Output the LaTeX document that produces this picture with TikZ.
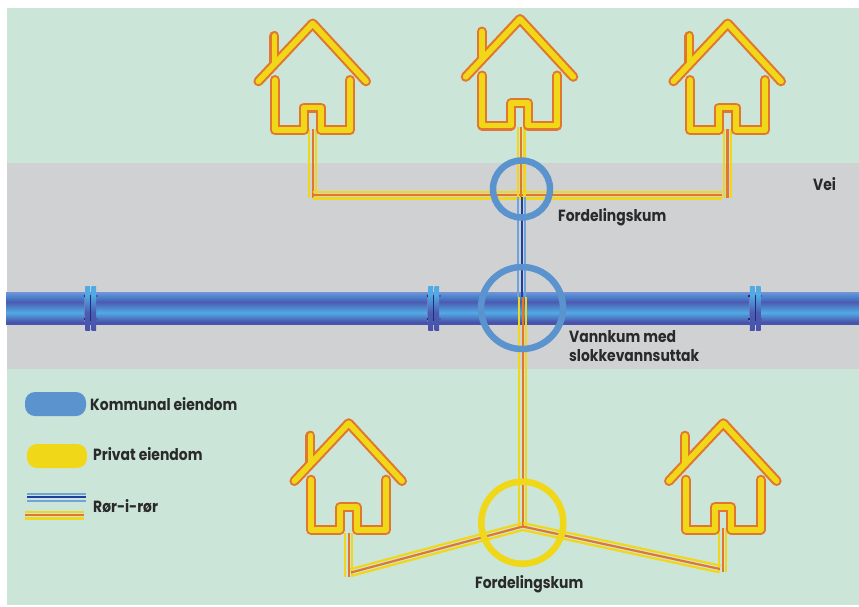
\documentclass[tikz,border=0pt]{standalone}
\usepackage{fontspec}
\setmainfont{Poppins}[FakeStretch=0.86]
\usetikzlibrary{calc}
\definecolor{bgreen}{HTML}{CBE6D8}
\definecolor{road}{HTML}{D0D1D3}
\definecolor{ringblue}{HTML}{5B93CF}
\definecolor{ringyellow}{HTML}{F0D718}
\definecolor{porange}{HTML}{E2762E}
\definecolor{pdark}{HTML}{1F3F9F}
\definecolor{plight}{HTML}{6FA3DC}
\definecolor{ink}{HTML}{2A2A2A}
\definecolor{pipeA}{HTML}{4A52AA}
\definecolor{pipeB}{HTML}{4A5CB2}
\definecolor{pipeC}{HTML}{52AAE4}
\definecolor{pipeD}{HTML}{7590D4}
\definecolor{pipeE}{HTML}{4F8ED4}
\definecolor{navy}{HTML}{1E2C7A}
\pgfdeclareverticalshading{mainpipe}{100bp}{
 color(0bp)=(pipeA); color(28bp)=(pipeA); color(43bp)=(pipeC); color(60bp)=(pipeB); color(71bp)=(pipeE); color(75bp)=(pipeD); color(100bp)=(pipeD)}
\pgfdeclareverticalshading{flangepipe}{100bp}{
 color(0bp)=(pipeA); color(25bp)=(pipeA); color(45bp)=(pipeB); color(65bp)=(pipeC); color(75bp)=(pipeC); color(100bp)=(pipeC)}
\tikzset{
 x=1pt,y=-1pt,
 label text/.style={font=\bfseries\fontsize{16.2}{19.5}\selectfont,text=ink,anchor=west,inner sep=0pt,align=left},
 ring/.style={line width=6.5pt,fill=none},
 house outer/.style={draw=porange,line width=10pt,line cap=round,line join=round},
 house inner/.style={draw=ringyellow,line width=5.8pt,line cap=round,line join=round},
 side line/.style={line width=2.2pt},
 mid line/.style={line width=2.2pt},
 pics/house/.style={code={
  \foreach \st in {house outer,house inner}{
   \draw[\st] (-54.3,59.3) -- (0,1.5) -- (53.3,59.3);
   \draw[\st] (-38.3,14) -- (-38.3,41);
   \draw[\st] (-37.7,58) -- (-37.7,108) -- (-8.7,108) -- (-8.7,85.5) -- (8,85.5) -- (8,108) -- (37.3,108) -- (37.3,58);
  }}}
}
\newcommand{\pipeline}[4]{%
 \draw[side line,#3] ($(#1)!3.4pt!90:(#2)$) -- ($(#2)!3.4pt!-90:(#1)$);
 \draw[side line,#3] ($(#1)!3.4pt!-90:(#2)$) -- ($(#2)!3.4pt!90:(#1)$);
 \draw[mid line,#4] (#1) -- (#2);}
\newcommand{\flange}[1]{%
 \draw[pipeB!80!white,line width=.6pt] (#1-6.5,294) -- (#1-6.5,322);
 \shade[shading=flangepipe] (#1-5.7,286) rectangle (#1-.8,330.5);
 \shade[shading=flangepipe] (#1+.5,286) rectangle (#1+5,330.5);
 \draw[navy,line width=.9pt] (#1-.2,295) -- (#1-.2,321);
 \draw[navy,line width=1.2pt] (#1-7.4,296) -- (#1-5.7,296) (#1-7.4,319) -- (#1-5.7,319);
 \draw[pipeB,line width=1.2pt] (#1+5,296) -- (#1+6.5,296) (#1+5,319) -- (#1+6.5,319);
}
\begin{document}
\begin{tikzpicture}
\useasboundingbox (0,0) rectangle (859,606);
\fill[white] (0,0) rectangle (859,606);
\fill[bgreen] (7,8) rectangle (859,605);
\fill[road] (7,163) rectangle (859,369);
% main pipe
\shade[shading=mainpipe] (6,292.5) rectangle (859,324);
\flange{91}\flange{434}\flange{755.5}
% junction coordinates
\coordinate (d1) at (312.7,129);
\coordinate (d2) at (521,127);
\coordinate (d3) at (727.5,129);
\coordinate (c1) at (312.7,198);
\coordinate (c3) at (727.5,198);
\coordinate (hl) at (312.7,195);
\coordinate (hr) at (722,195);
\coordinate (k1) at (521,197);
\coordinate (k1b) at (521.7,197);
\coordinate (k2) at (521.7,297);
\coordinate (k2y) at (522.7,297);
\coordinate (k3) at (522.7,526.5);
\coordinate (d4) at (348.7,533);
\coordinate (e4) at (348.7,577);
\coordinate (f4) at (351,572.5);
\coordinate (d5) at (722.7,528);
\coordinate (e5) at (722.7,571.5);
\coordinate (f5) at (720,569);
% pipes
\pipeline{d1}{c1}{ringyellow}{porange}
\pipeline{d3}{c3}{ringyellow}{porange}
\pipeline{hl}{hr}{ringyellow}{porange}
\pipeline{d2}{k1}{ringyellow}{porange}
\pipeline{k1b}{k2}{plight}{pdark}
\pipeline{k2y}{k3}{ringyellow}{porange}
\pipeline{d4}{e4}{ringyellow}{porange}
\pipeline{d5}{e5}{ringyellow}{porange}
\pipeline{k3}{f4}{ringyellow}{porange}
\pipeline{k3}{f5}{ringyellow}{porange}
% houses
\pic at (312.7,22) {house};
\pic at (520,17.5) {house};
\pic at (727.7,22) {house};
\pic at (348.7,421.7) {house};
\pic at (723.3,421.7) {house};
% rings
\node[draw=ringblue,ring,circle,minimum size=57pt,inner sep=0pt] (kum1) at (521.5,189) {};
\node[draw=ringblue,ring,circle,minimum size=82pt,inner sep=0pt] (kum2) at (522,308) {};
\node[draw=ringyellow,ring,circle,minimum size=82pt,inner sep=0pt] (kum3) at (522.3,522.7) {};
% labels
\node[label text] (vei) at (813,184) {Vei};
\node[label text] (fk1) at (558,217) {Fordelingskum};
\node[label text] (vk) at (569,346) {Vannkum med\\slokkevannsuttak};
\node[label text] (fk2) at (475,584) {Fordelingskum};
% legend
\node[fill=ringblue,rounded corners=10pt,minimum width=61pt,minimum height=24pt,inner sep=0pt] (lk) at (55.5,404) {};
\node[fill=ringyellow,rounded corners=10pt,minimum width=60pt,minimum height=24pt,inner sep=0pt] (lp) at (57,456) {};
\node[label text] (tk) at (90,404.5) {Kommunal eiendom};
\node[label text] (tp) at (93,454) {Privat eiendom};
\node[label text] (tr) at (93,506) {Rør-i-rør};
\coordinate (la) at (27,497.3);
\coordinate (lb) at (86,497.3);
\coordinate (lc) at (25,515);
\coordinate (ld) at (84,515);
\pipeline{la}{lb}{plight}{pdark}
\pipeline{lc}{ld}{ringyellow}{porange}
\end{tikzpicture}
\end{document}
